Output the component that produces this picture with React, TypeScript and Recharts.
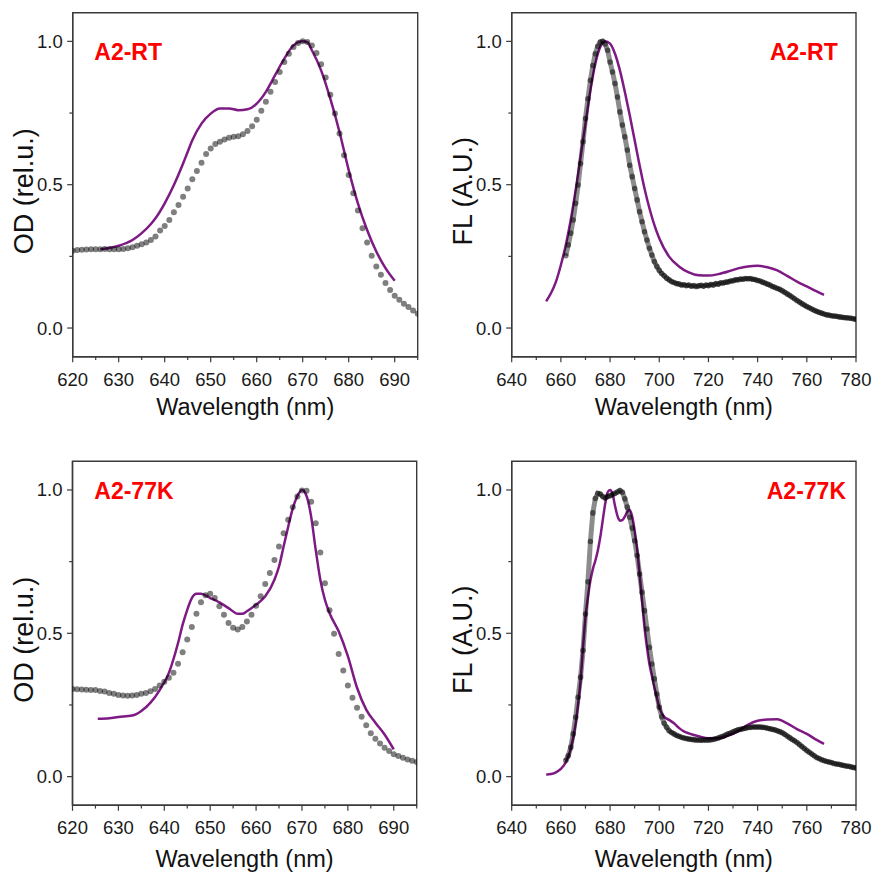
import React from 'react';
import { ComposedChart, Line, Scatter, XAxis, YAxis, ReferenceArea } from 'recharts';

type Pt = [number, number];

// absorbance, room temperature (grey dots = measured, purple = simulated)
const odRtDots: Pt[] = [
  [620, 0.27], [621, 0.272], [622, 0.273], [623, 0.274], [624, 0.275], [625, 0.275], [626, 0.275], [627, 0.276],
  [628, 0.275], [629, 0.275], [630, 0.275], [631, 0.276], [632, 0.278], [633, 0.282], [634, 0.287], [635, 0.292],
  [636, 0.298], [637, 0.307], [638, 0.319], [639, 0.34], [640, 0.356], [641, 0.377], [642, 0.404], [643, 0.429],
  [644, 0.458], [645, 0.487], [646, 0.519], [647, 0.548], [648, 0.577], [649, 0.607], [650, 0.626], [651, 0.642],
  [652, 0.65], [653, 0.658], [654, 0.664], [655, 0.667], [656, 0.669], [657, 0.676], [658, 0.687], [659, 0.704],
  [660, 0.727], [661, 0.758], [662, 0.789], [663, 0.824], [664, 0.858], [665, 0.893], [666, 0.928], [667, 0.957],
  [668, 0.98], [669, 0.994], [670, 1.0], [671, 0.998], [672, 0.986], [673, 0.959], [674, 0.92], [675, 0.874],
  [676, 0.814], [677, 0.748], [678, 0.679], [679, 0.603], [680, 0.534], [681, 0.47], [682, 0.41], [683, 0.348],
  [684, 0.298], [685, 0.252], [686, 0.215], [687, 0.186], [688, 0.157], [689, 0.133], [690, 0.113], [691, 0.099],
  [692, 0.085], [693, 0.073], [694, 0.061], [695, 0.05],
];
const odRtLine: Pt[] = [
  [626, 0.275], [630, 0.287], [633, 0.307], [635, 0.331], [637, 0.363], [638, 0.383], [640, 0.435], [642, 0.499],
  [644, 0.574], [645, 0.615], [646, 0.655], [648, 0.713], [650, 0.748], [652, 0.766], [654, 0.766], [656, 0.76],
  [658, 0.763], [660, 0.783], [662, 0.824], [664, 0.882], [666, 0.94], [668, 0.986], [670, 1.0], [671, 0.997],
  [672, 0.969], [674, 0.899], [676, 0.8], [678, 0.684], [680, 0.551], [682, 0.435], [684, 0.342], [686, 0.267],
  [688, 0.209], [690, 0.165],
];

// fluorescence, room temperature
const flRtDots: Pt[] = [
  [662, 0.252], [663, 0.29], [664, 0.331], [665, 0.377], [666, 0.435], [667, 0.499], [668, 0.574], [669, 0.65],
  [670, 0.731], [671, 0.8], [672, 0.864], [673, 0.916], [674, 0.957], [675, 0.983], [676, 0.998], [677, 1.0],
  [678, 0.991], [679, 0.969], [680, 0.928], [681, 0.893], [682, 0.853], [683, 0.806], [684, 0.754], [685, 0.708],
  [686, 0.667], [687, 0.621], [688, 0.568], [689, 0.528], [690, 0.487], [691, 0.447], [692, 0.406], [693, 0.371],
  [694, 0.336], [695, 0.307], [696, 0.278], [697, 0.255], [698, 0.232], [699, 0.215], [700, 0.201], [701, 0.19],
  [702, 0.182], [703, 0.174], [704, 0.168], [705, 0.162], [706, 0.159], [707, 0.155], [708, 0.154], [709, 0.15],
  [710, 0.151], [711, 0.148], [712, 0.15], [713, 0.146], [714, 0.148], [715, 0.145], [716, 0.147], [717, 0.149],
  [718, 0.146], [719, 0.15], [720, 0.148], [721, 0.152], [722, 0.15], [723, 0.155], [724, 0.153], [725, 0.158],
  [726, 0.157], [727, 0.16], [728, 0.161], [729, 0.164], [730, 0.165], [731, 0.168], [732, 0.168], [733, 0.171],
  [734, 0.17], [735, 0.173], [736, 0.172], [737, 0.173], [738, 0.17], [739, 0.169], [740, 0.166], [741, 0.164],
  [742, 0.16], [743, 0.157], [744, 0.153], [745, 0.15], [746, 0.145], [747, 0.142], [748, 0.138], [749, 0.135],
  [750, 0.13], [751, 0.125], [752, 0.119], [753, 0.114], [754, 0.108], [755, 0.102], [756, 0.096], [757, 0.091],
  [758, 0.085], [759, 0.08], [760, 0.075], [761, 0.071], [762, 0.066], [763, 0.062], [764, 0.058], [765, 0.055],
  [766, 0.052], [767, 0.049], [768, 0.046], [769, 0.045], [770, 0.043], [771, 0.042], [772, 0.041], [773, 0.039],
  [774, 0.038], [775, 0.037], [776, 0.036], [777, 0.035], [778, 0.034], [779, 0.032], [780, 0.031],
];
const flRtLine: Pt[] = [
  [654, 0.093], [656, 0.122], [658, 0.162], [660, 0.22], [662, 0.29], [664, 0.377], [666, 0.481], [668, 0.597],
  [670, 0.713], [672, 0.829], [674, 0.922], [676, 0.98], [678, 1.0], [680, 0.992], [682, 0.957], [684, 0.899],
  [686, 0.824], [688, 0.742], [690, 0.655], [692, 0.568], [694, 0.487], [696, 0.418], [698, 0.36], [700, 0.313],
  [704, 0.249], [708, 0.215], [712, 0.194], [716, 0.184], [720, 0.183], [724, 0.188], [728, 0.197], [732, 0.208],
  [736, 0.215], [740, 0.217], [744, 0.212], [748, 0.201], [752, 0.182], [756, 0.162], [760, 0.145], [764, 0.128],
  [767, 0.116],
];

// absorbance, 77 K
const od77Dots: Pt[] = [
  [620, 0.306], [621, 0.305], [622, 0.304], [623, 0.303], [624, 0.302], [625, 0.302], [626, 0.299], [627, 0.297],
  [628, 0.292], [629, 0.289], [630, 0.285], [631, 0.283], [632, 0.282], [633, 0.283], [634, 0.285], [635, 0.289],
  [636, 0.292], [637, 0.298], [638, 0.306], [639, 0.318], [640, 0.331], [641, 0.345], [642, 0.362], [643, 0.394],
  [644, 0.434], [645, 0.478], [646, 0.522], [647, 0.568], [648, 0.608], [649, 0.633], [650, 0.638], [651, 0.623],
  [652, 0.594], [653, 0.565], [654, 0.536], [655, 0.519], [656, 0.513], [657, 0.522], [658, 0.541], [659, 0.565],
  [660, 0.596], [661, 0.629], [662, 0.672], [663, 0.71], [664, 0.756], [665, 0.803], [666, 0.849], [667, 0.896],
  [668, 0.94], [669, 0.977], [670, 0.998], [671, 0.997], [672, 0.959], [673, 0.884], [674, 0.782], [675, 0.675],
  [676, 0.58], [677, 0.498], [678, 0.428], [679, 0.37], [680, 0.318], [681, 0.275], [682, 0.24], [683, 0.209],
  [684, 0.179], [685, 0.151], [686, 0.132], [687, 0.116], [688, 0.101], [689, 0.089], [690, 0.078], [691, 0.072],
  [692, 0.066], [693, 0.06], [694, 0.055], [695, 0.051],
];
const od77Line: Pt[] = [
  [625.5, 0.202], [628, 0.204], [630, 0.208], [633, 0.213], [635, 0.229], [637, 0.258], [639, 0.302], [641, 0.362],
  [643, 0.466], [644, 0.53], [645, 0.582], [646, 0.623], [647, 0.638], [648, 0.638], [650, 0.623], [652, 0.608],
  [654, 0.588], [656, 0.568], [657, 0.568], [658, 0.577], [660, 0.6], [662, 0.629], [664, 0.687], [665, 0.733],
  [666, 0.803], [667, 0.872], [668, 0.936], [669, 0.979], [670, 1.0], [671, 0.979], [672, 0.907], [673, 0.791],
  [674, 0.687], [675, 0.617], [676, 0.571], [678, 0.507], [680, 0.42], [682, 0.31], [684, 0.234], [686, 0.188],
  [688, 0.147], [690, 0.095],
];

// fluorescence, 77 K
const fl77Dots: Pt[] = [
  [662, 0.056], [663, 0.073], [664, 0.102], [665, 0.149], [666, 0.207], [667, 0.277], [668, 0.347], [669, 0.44],
  [670, 0.567], [671, 0.68], [672, 0.82], [673, 0.92], [674, 0.97], [675, 0.988], [676, 0.986], [677, 0.977],
  [678, 0.972], [679, 0.977], [680, 0.98], [681, 0.984], [682, 0.988], [683, 0.993], [684, 0.998], [685, 0.992],
  [686, 0.969], [687, 0.94], [688, 0.905], [689, 0.867], [690, 0.823], [691, 0.771], [692, 0.707], [693, 0.643],
  [694, 0.579], [695, 0.515], [696, 0.451], [697, 0.393], [698, 0.341], [699, 0.288], [700, 0.242], [701, 0.209],
  [702, 0.186], [703, 0.172], [704, 0.16], [705, 0.154], [706, 0.149], [707, 0.144], [708, 0.141], [709, 0.137],
  [710, 0.135], [711, 0.133], [712, 0.131], [713, 0.13], [714, 0.129], [715, 0.128], [716, 0.128], [717, 0.127],
  [718, 0.128], [719, 0.128], [720, 0.128], [721, 0.129], [722, 0.13], [723, 0.132], [724, 0.135], [725, 0.138],
  [726, 0.141], [727, 0.145], [728, 0.149], [729, 0.152], [730, 0.156], [731, 0.16], [732, 0.163], [733, 0.165],
  [734, 0.167], [735, 0.169], [736, 0.171], [737, 0.172], [738, 0.173], [739, 0.173], [740, 0.173], [741, 0.173],
  [742, 0.172], [743, 0.171], [744, 0.169], [745, 0.167], [746, 0.165], [747, 0.163], [748, 0.16], [749, 0.157],
  [750, 0.153], [751, 0.148], [752, 0.142], [753, 0.136], [754, 0.13], [755, 0.125], [756, 0.119], [757, 0.112],
  [758, 0.105], [759, 0.098], [760, 0.091], [761, 0.085], [762, 0.079], [763, 0.073], [764, 0.067], [765, 0.063],
  [766, 0.059], [767, 0.056], [768, 0.053], [769, 0.051], [770, 0.049], [771, 0.046], [772, 0.044], [773, 0.043],
  [774, 0.041], [775, 0.039], [776, 0.037], [777, 0.036], [778, 0.034], [779, 0.032], [780, 0.03],
];
const fl77Line: Pt[] = [
  [654, 0.007], [656, 0.009], [658, 0.015], [660, 0.027], [662, 0.05], [664, 0.097], [666, 0.184], [667, 0.253],
  [668, 0.335], [669, 0.451], [670, 0.556], [671, 0.626], [672, 0.684], [673, 0.724], [674, 0.753], [675, 0.788],
  [676, 0.835], [677, 0.893], [678, 0.951], [679, 0.992], [680, 1.0], [681, 0.986], [682, 0.945], [683, 0.91],
  [684, 0.893], [685, 0.895], [686, 0.907], [687, 0.924], [688, 0.93], [689, 0.907], [690, 0.858], [691, 0.794],
  [692, 0.707], [693, 0.614], [694, 0.521], [695, 0.451], [696, 0.393], [697, 0.352], [698, 0.312], [699, 0.277],
  [700, 0.242], [702, 0.209], [704, 0.198], [706, 0.186], [708, 0.17], [710, 0.158], [712, 0.151], [716, 0.141],
  [720, 0.134], [724, 0.134], [728, 0.143], [732, 0.158], [736, 0.181], [740, 0.195], [744, 0.199], [748, 0.2],
  [752, 0.186], [756, 0.166], [760, 0.149], [764, 0.128], [767, 0.114],
];

const odTicks = [620, 625, 630, 635, 640, 645, 650, 655, 660, 665, 670, 675, 680, 685, 690, 695];
const flTicks = [640, 650, 660, 670, 680, 690, 700, 710, 720, 730, 740, 750, 760, 770, 780];
const yTicks = [0, 0.25, 0.5, 0.75, 1];

const PURPLE = '#7e1a84';
const AXIS = '#3a3a3a';
const FONT = '"Liberation Sans", Arial, sans-serif';
const Y_DOMAIN: [number, number] = [-0.1, 1.1];

const toRows = (pts: Pt[]) => pts.map(([x, y]) => ({ x, y }));

const XTick = (props: any) => {
  const { x, y, payload, major } = props;
  const isMajor = Math.round(payload.value) % major === 0;
  return (
    <g>
      <line x1={x} x2={x} y1={y} y2={y + (isMajor ? 5.5 : 3.3)} stroke={AXIS} strokeWidth={1.2} />
      {isMajor && (
        <text x={x} y={y + 22.5} textAnchor="middle" dominantBaseline="central" fontSize={18.5} fill="#1a1a1a" fontFamily={FONT}>
          {payload.value}
        </text>
      )}
    </g>
  );
};

const YTick = (props: any) => {
  const { x, y, payload } = props;
  const isMajor = Math.abs(payload.value * 2 - Math.round(payload.value * 2)) < 1e-6;
  return (
    <g>
      <line x1={x - (isMajor ? 5.5 : 3.3)} x2={x} y1={y} y2={y} stroke={AXIS} strokeWidth={1.2} />
      {isMajor && (
        <text x={x - 10} y={y} textAnchor="end" dominantBaseline="central" fontSize={18.5} fill="#1a1a1a" fontFamily={FONT}>
          {payload.value.toFixed(1)}
        </text>
      )}
    </g>
  );
};

const makeDot = (r: number) => (p: any) => <circle cx={p.cx} cy={p.cy} r={r} fill="#000" fillOpacity={0.5} />;
const OdDot = makeDot(3);
const FlDot = makeDot(2.8);

interface PanelProps {
  left: number;
  top: number;
  plot: { l: number; t: number; r: number; b: number };
  xDomain: [number, number];
  xTicks: number[];
  xMajor: number;
  dots: Pt[];
  line: Pt[];
  dense?: boolean;
  yLabel: string;
  title: string;
  titleLeft?: number;
  titleRight?: number;
  titleBase: number;
  xTitleOffset: number;
}

const W = 436;
const H = 436;

const Panel = ({ left, top, plot, xDomain, xTicks, xMajor, dots, line, dense, yLabel, title, titleLeft, titleRight, titleBase, xTitleOffset }: PanelProps) => {
  const margin = { top: plot.t, right: W - plot.r, bottom: H - plot.b - 60, left: 0 };
  const dotRows = toRows(dots);
  const cx = (plot.l + plot.r) / 2;
  const cy = (plot.t + plot.b) / 2 + 6.5;
  const ylx = plot.l - 48.5;
  return (
    <div style={{ position: 'absolute', left, top, width: W, height: H }}>
      <ComposedChart width={W} height={H} margin={margin}>
        <XAxis
          type="number"
          dataKey="x"
          domain={xDomain}
          ticks={xTicks}
          interval={0}
          allowDataOverflow
          height={60}
          tickSize={0}
          tickMargin={0}
          tickLine={false}
          axisLine={{ stroke: AXIS, strokeWidth: 1.4 }}
          tick={(p: any) => <XTick {...p} major={xMajor} />}
          label={{
            content: () => (
              <text x={cx} y={plot.b + xTitleOffset} textAnchor="middle" dominantBaseline="central" fontSize={23.5} fill="#111" fontFamily={FONT}>
                Wavelength (nm)
              </text>
            ),
          }}
        />
        <YAxis
          type="number"
          dataKey="y"
          domain={Y_DOMAIN}
          ticks={yTicks}
          interval={0}
          allowDataOverflow
          width={plot.l}
          tickSize={0}
          tickMargin={0}
          tickLine={false}
          axisLine={{ stroke: AXIS, strokeWidth: 1.4 }}
          tick={(p: any) => <YTick {...p} />}
          label={{
            content: () => (
              <text x={ylx} y={cy} transform={`rotate(-90, ${ylx}, ${cy})`} textAnchor="middle" dominantBaseline="central" fontSize={27} fill="#111" fontFamily={FONT}>
                {yLabel}
              </text>
            ),
          }}
        />
        <ReferenceArea x1={xDomain[0]} x2={xDomain[1]} y1={Y_DOMAIN[0]} y2={Y_DOMAIN[1]} fill="none" fillOpacity={0} stroke={AXIS} strokeWidth={1.4} ifOverflow="visible" />
        <Line data={toRows(line)} dataKey="y" type="monotone" stroke={PURPLE} strokeWidth={2.5} dot={false} activeDot={false} isAnimationActive={false} />
        {dense && (
          <Line data={dotRows} dataKey="y" type="linear" stroke="#000" strokeOpacity={0.45} strokeWidth={5} dot={false} activeDot={false} isAnimationActive={false} />
        )}
        <Scatter data={dotRows} dataKey="y" shape={dense ? FlDot : OdDot} isAnimationActive={false} />
      </ComposedChart>
      <div
        style={{
          position: 'absolute',
          top: titleBase - 19.5,
          left: titleLeft,
          right: titleRight,
          fontFamily: FONT,
          fontWeight: 'bold',
          fontSize: 23,
          lineHeight: '23px',
          color: '#ff0000',
          whiteSpace: 'nowrap',
        }}
      >
        {title}
      </div>
    </div>
  );
};

export default function App() {
  const rowTop = { l: 72.7, t: 12.7, r: 417.7, b: 356.7 };
  const rowTopR = { l: 75.7, t: 12.7, r: 420, b: 356.7 };
  const rowBot = { l: 72.5, t: 21.3, r: 416.7, b: 365.3 };
  const rowBotR = { l: 75.7, t: 21.3, r: 420, b: 365.3 };
  return (
    <div style={{ position: 'absolute', left: 0, top: 0, width: 872, height: 873, overflow: 'hidden', background: '#fff' }}>
      <Panel left={0} top={0} plot={rowTop} xDomain={[620, 695]} xTicks={odTicks} xMajor={10} dots={odRtDots} line={odRtLine}
        yLabel="OD (rel.u.)" title="A2-RT" titleLeft={94.3} titleBase={60} xTitleOffset={50} />
      <Panel left={436} top={0} plot={rowTopR} xDomain={[640, 780]} xTicks={flTicks} xMajor={20} dots={flRtDots} line={flRtLine} dense
        yLabel="FL (A.U.)" title="A2-RT" titleRight={W - 401.7} titleBase={60} xTitleOffset={50} />
      <Panel left={0} top={440} plot={rowBot} xDomain={[620, 695]} xTicks={odTicks} xMajor={10} dots={od77Dots} line={od77Line}
        yLabel="OD (rel.u.)" title="A2-77K" titleLeft={94.3} titleBase={59} xTitleOffset={54} />
      <Panel left={436} top={440} plot={rowBotR} xDomain={[640, 780]} xTicks={flTicks} xMajor={20} dots={fl77Dots} line={fl77Line} dense
        yLabel="FL (A.U.)" title="A2-77K" titleRight={W - 410} titleBase={59} xTitleOffset={54} />
    </div>
  );
}
